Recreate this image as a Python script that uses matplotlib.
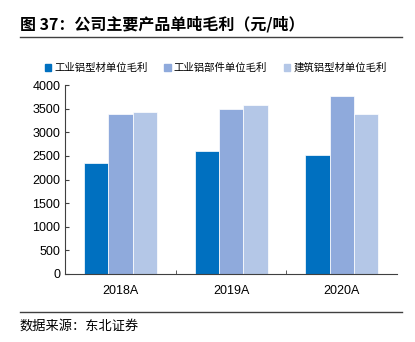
import matplotlib.pyplot as plt
import numpy as np
from matplotlib.lines import Line2D
from matplotlib.patches import Patch

plt.rcParams['font.family'] = ['Liberation Sans', 'Noto Sans CJK SC', 'DejaVu Sans']

years = ['2018A', '2019A', '2020A']
series_names = ['工业铝型材单位毛利', '工业铝部件单位毛利', '建筑铝型材单位毛利']
profile = [2360, 2600, 2515]
parts = [3380, 3495, 3770]
building = [3425, 3580, 3395]
colors = ['#0070C0', '#8FAADC', '#B4C7E7']

fig = plt.figure(figsize=(4.15, 3.42), dpi=100)
ax = fig.add_axes([0.157, 0.199, 0.8, 0.552])

x = np.arange(len(years))
w = 0.22
for i, vals in enumerate([profile, parts, building]):
    ax.bar(x + (i - 1) * w, vals, w, color=colors[i], edgecolor='white', linewidth=0.5)

ax.set_xlim(-0.5, 2.5)
ax.set_ylim(0, 4000)
ax.set_yticks(range(0, 4001, 500))
ax.set_xticks(x)
ax.set_xticklabels(years)
ax.set_xticks([0.5, 1.5], minor=True)
ax.tick_params(axis='x', which='major', length=0, labelsize=9, pad=8)
ax.tick_params(axis='x', which='minor', direction='in', length=3, color='#404040')
ax.tick_params(axis='y', direction='in', length=3, labelsize=9, color='#404040')
for s in ['top', 'right']:
    ax.spines[s].set_visible(False)
for s in ['left', 'bottom']:
    ax.spines[s].set_color('#404040')
    ax.spines[s].set_linewidth(0.8)

handles = [Patch(color=c) for c in colors]
fig.legend(handles, series_names, loc='center', bbox_to_anchor=(0.52, 0.801), ncol=3,
           frameon=False, prop={'family': ['Noto Sans CJK SC'], 'size': 7.5},
           handlelength=0.6, handleheight=0.6, handletextpad=0.3, columnspacing=1.6)

fig.text(0.048, 0.93, '图 37：公司主要产品单吨毛利（元/吨）', fontsize=11.5, fontweight='bold',
         va='center', ha='left', family=['Noto Sans CJK SC'])
fig.add_artist(Line2D([0.048, 0.968], [0.892, 0.892], color='#404040', lw=1))
fig.add_artist(Line2D([0.048, 0.968], [0.088, 0.088], color='#404040', lw=1))
fig.text(0.048, 0.047, '数据来源：东北证券', fontsize=9.5, va='center', ha='left',
         family=['Noto Sans CJK SC'])

fig.savefig('out.png', dpi=100)
